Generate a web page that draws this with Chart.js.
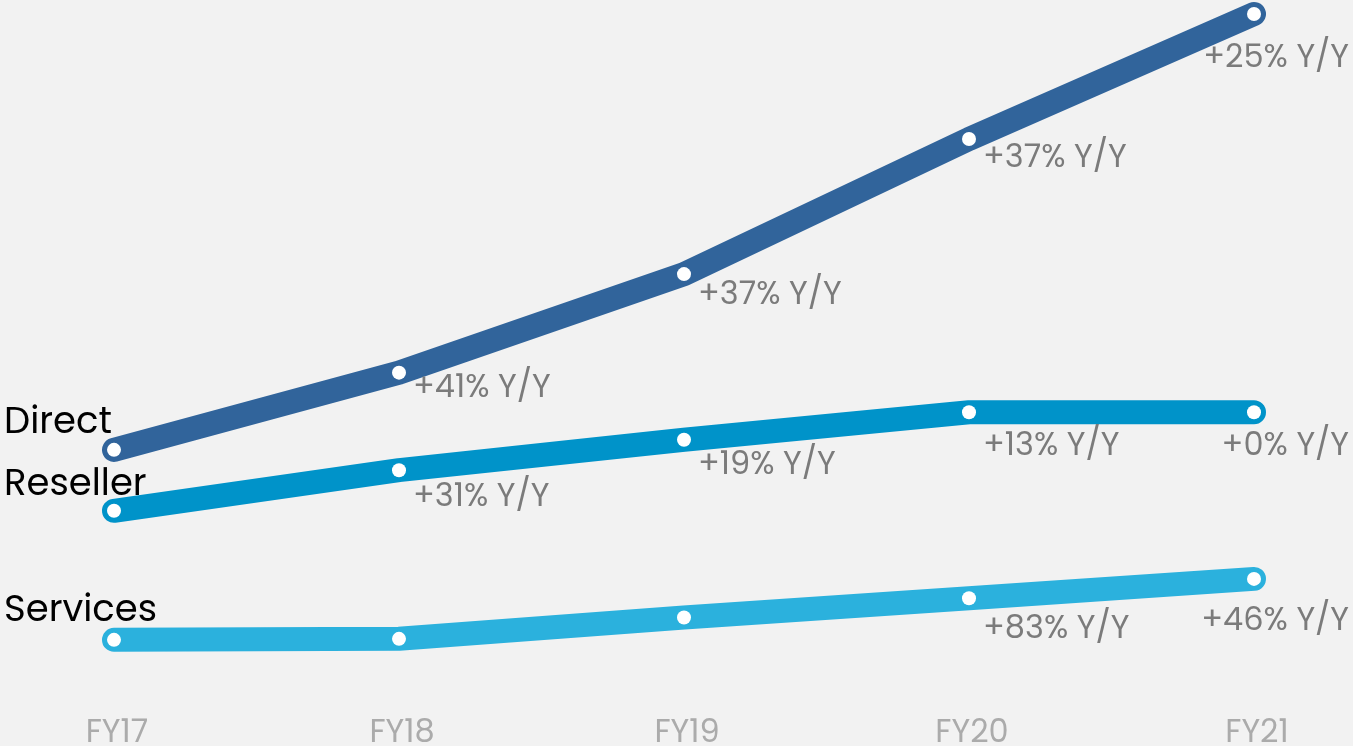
<!DOCTYPE html>
<html>
<head>
<meta charset="utf-8">
<script src="https://cdn.jsdelivr.net/npm/chart.js@4.4.1/dist/chart.umd.min.js"></script>
<style>
  html, body { margin: 0; padding: 0; background: #f2f2f2; }
  #wrap { width: 1353px; height: 746px; }
</style>
</head>
<body>
<div id="wrap"><canvas id="revenueChart"></canvas></div>
<script>
// Fiscal years
const years = ["FY17", "FY18", "FY19", "FY20", "FY21"];

// Revenue by channel
const direct = [188, 264, 361, 494, 617];
const reseller = [128, 168, 198, 225, 225];
const services = [1, 2, 23, 42, 61];

// Year-over-year growth labels (null = no label)
const directGrowth = [null, "+41% Y/Y", "+37% Y/Y", "+37% Y/Y", "+25% Y/Y"];
const resellerGrowth = [null, "+31% Y/Y", "+19% Y/Y", "+13% Y/Y", "+0% Y/Y"];
const servicesGrowth = [null, null, null, "+83% Y/Y", "+46% Y/Y"];

const FONT = "Poppins, Inter, 'Noto Sans', sans-serif";

function series(name, values, growth, color, dy) {
  return {
    label: name,
    data: values,
    growth: growth,
    labelDy: dy,
    borderColor: color,
    borderWidth: 24,
    borderCapStyle: "round",
    borderJoinStyle: "round",
    pointRadius: 7,
    pointBorderWidth: 0,
    pointBackgroundColor: "#ffffff",
    pointHoverRadius: 7,
    tension: 0,
    fill: false,
    clip: false,
  };
}

// Series names, growth labels and year labels
const labelPlugin = {
  id: "labels",
  afterDatasetsDraw(chart) {
    const ctx = chart.ctx;
    const xScale = chart.scales.x;
    ctx.save();
    ctx.textBaseline = "middle";
    chart.data.datasets.forEach(function (ds, i) {
      const pts = chart.getDatasetMeta(i).data;
      ctx.fillStyle = "#000000";
      ctx.font = "37px " + FONT;
      ctx.textAlign = "left";
      ctx.fillText(ds.label, 4, pts[0].y - ds.labelDy[0]);

      ctx.fillStyle = "#7b7b7b";
      ctx.font = "32px " + FONT;
      ds.growth.forEach(function (txt, j) {
        if (!txt) return;
        const p = pts[j];
        if (j === pts.length - 1) {
          ctx.textAlign = "right";
          ctx.fillText(txt, chart.width - 4, p.y + ds.labelDy[j]);
        } else {
          ctx.textAlign = "left";
          ctx.fillText(txt, p.x + 14, p.y + ds.labelDy[j]);
        }
      });
    });

    // year labels along the bottom
    ctx.fillStyle = "#ababab";
    ctx.font = "32px " + FONT;
    ctx.textAlign = "center";
    ctx.textBaseline = "alphabetic";
    chart.data.labels.forEach(function (lbl, j) {
      ctx.fillText(lbl, xScale.getPixelForValue(j) + 3, chart.height - 4);
    });
    ctx.restore();
  },
};

new Chart(document.getElementById("revenueChart"), {
  type: "line",
  data: {
    labels: years,
    datasets: [
      series("Direct", direct, directGrowth, "#31649b", [26, 16, 22, 20, 45]),
      series("Reseller", reseller, resellerGrowth, "#0093c9", [25, 28, 26, 35, 35]),
      series("Services", services, servicesGrowth, "#2bb1dd", [28, 0, 0, 32, 43]),
    ],
  },
  options: {
    responsive: true,
    maintainAspectRatio: false,
    animation: false,
    layout: { padding: { left: 114, right: 99, top: 3, bottom: 0 } },
    plugins: {
      legend: { display: false },
      tooltip: { enabled: false },
    },
    scales: {
      x: {
        display: false,
        offset: false,
      },
      y: {
        display: false,
        min: -96.6,
        max: 623.9,
      },
    },
  },
  plugins: [labelPlugin],
});
</script>
</body>
</html>
